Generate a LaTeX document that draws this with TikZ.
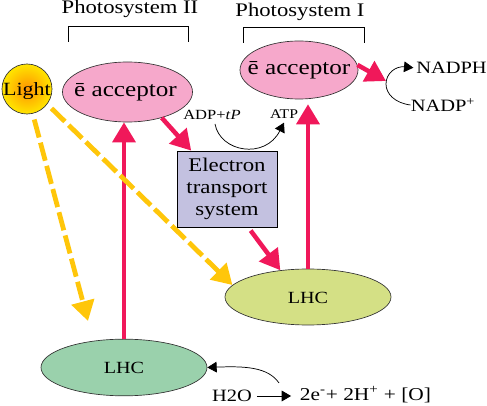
\documentclass[tikz,border=0pt]{standalone}
\usepackage{fontspec}
\setmainfont[FakeStretch=1.18]{Liberation Serif}
\usetikzlibrary{arrows.meta,shapes.geometric}
\definecolor{pinkfill}{HTML}{F6A8CB}
\definecolor{greenfill}{HTML}{9AD1AC}
\definecolor{limefill}{HTML}{D4E085}
\definecolor{boxfill}{HTML}{C3C1E0}
\definecolor{redline}{HTML}{F0185A}
\definecolor{yellowline}{HTML}{FFC60A}
\tikzset{
 blob/.style={ellipse,draw=black!80,line width=0.5pt,inner sep=0pt},
 txt/.style={inner sep=0pt,text=black},
 redarrow/.style={draw=redline,line width=3.4pt,-{Triangle[length=15pt,width=17pt,fill=redline]}},
 yellowarrow/.style={draw=yellowline,line width=3.6pt,dash pattern=on 14pt off 4pt,-{Triangle[length=15pt,width=17pt,fill=yellowline,sep=0pt]}},
 thin arrow/.style={draw=black,line width=0.55pt,-{Triangle[length=7pt,width=8pt,fill=black]}},
 bracket/.style={draw=black,line width=0.55pt},
}
\begin{document}
\begin{tikzpicture}[x=0.75pt,y=-0.75pt]
\useasboundingbox (0,0) rectangle (487,406);
% brackets
\draw[bracket] (68,42) -- (68,26) -- (188,26) -- (188,42);
\draw[bracket] (243,43) -- (243,27) -- (364,27) -- (364,43);
\node[txt,font=\fontsize{14.4}{16}\selectfont] (psii) at (130,9) {Photosystem II};
\node[txt,font=\fontsize{14.4}{16}\selectfont] (psi) at (300,12) {Photosystem I};
% shapes
\node[circle,draw=black!80,line width=0.5pt,inner sep=0pt,minimum size=37.5pt,inner color=orange!85!yellow,outer color=yellow!80!orange,label={[txt,yshift=-1.8pt,font=\fontsize{14}{16}\selectfont]center:Light}] (light) at (27,89) {};
\node[blob,fill=pinkfill,minimum width=97.5pt,minimum height=45pt,label={[txt,xshift=-1.5pt,yshift=-0.5pt,font=\fontsize{16}{18}\selectfont]center:ē acceptor}] (a1) at (127.5,92) {};
\node[blob,fill=pinkfill,minimum width=88.5pt,minimum height=43.5pt,label={[txt,yshift=-0.5pt,font=\fontsize{16}{18}\selectfont]center:ē acceptor}] (a2) at (299,70) {};
\node[draw=black,line width=0.6pt,fill=boxfill,minimum width=75pt,minimum height=57pt,inner sep=0pt,align=center,font=\fontsize{14.5}{16.3}\selectfont] (box) at (227,189) {Electron\\transport\\system};
\node[blob,fill=limefill,minimum width=124.5pt,minimum height=42pt,label={[txt,yshift=-0.6pt,font=\fontsize{12.8}{14}\selectfont]center:LHC}] (lhc2) at (308,297) {};
\node[blob,fill=greenfill,minimum width=124.5pt,minimum height=42.5pt,label={[txt,font=\fontsize{12.8}{14}\selectfont]center:LHC}] (lhc1) at (124,367.5) {};
% labels
\node[txt,font=\fontsize{10.5}{12}\selectfont] (adp) at (212,115) {ADP+\textit{t}\textit{P}};
\node[txt,font=\fontsize{10}{12}\selectfont] (atp) at (284,114) {ATP};
\node[txt,font=\fontsize{13}{14}\selectfont] (nadph) at (451.5,68) {NADPH};
\node[txt,font=\fontsize{13}{14}\selectfont] (nadp) at (443,105) {NADP\textsuperscript{+}};
\node[txt,font=\fontsize{13}{14}\selectfont] (water) at (232,396) {H\raisebox{0pt}{2}O};
\node[txt,font=\fontsize{13.6}{14}\selectfont] (prod) at (365.5,395) {2e\textsuperscript{-}+ 2H\textsuperscript{+} + [O]};
% free ends
\coordinate (turn) at (386,81);
\coordinate (yend) at (88,321);
% red connectors
\draw[redarrow] (lhc1.north) -- (lhc1.north |- a1.south);
\draw[redarrow,shorten >=3.7pt] (lhc2.north) -- (lhc2.north |- a2.south);
\draw[redarrow] (a1.-37) -- (box.133);
\draw[redarrow,shorten <=3pt] (box.-61) -- (lhc2.136);
\draw[redarrow] (a2.5) -- (turn);
% yellow connectors
\draw[yellowarrow,shorten <=4.5pt] (light.-77) -- (yend);
\draw[yellowarrow,shorten <=4.5pt] (light.-37) -- (lhc2.171.5);
% thin connectors
\draw[thin arrow] ([xshift=2.25pt,yshift=-3pt]adp.south) .. controls (220,152) and (265,160) .. ([yshift=-3pt]atp.south);
\draw[thin arrow,shorten >=2pt] (nadp.west) .. controls (395,103) and (386,94) .. (386,84) .. controls (386,73) and (396,66) .. (nadph.west);
\draw[thin arrow,shorten >=6.5pt,shorten <=3.5pt] (water.east) -- (water.east -| prod.west);
\draw[thin arrow] (279,383) .. controls (268,367) and (245,366) .. (lhc1.east);
\end{tikzpicture}
\end{document}
